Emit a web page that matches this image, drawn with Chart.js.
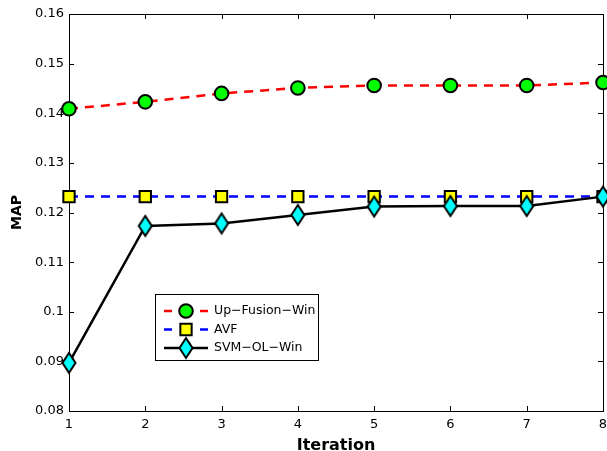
<!DOCTYPE html>
<html>
<head>
<meta charset="utf-8">
<title>MAP per iteration</title>
<script src="https://cdn.jsdelivr.net/npm/chart.js"></script>
<style>
  html, body { margin: 0; padding: 0; background: #fff; }
  canvas { display: block; }
</style>
</head>
<body>
<canvas id="mapChart" width="607" height="451"></canvas>
<script>
// iterations on the x axis
const iterations = [1, 2, 3, 4, 5, 6, 7, 8];

// MAP for each method
const upFusionWin = [0.1409, 0.1423, 0.1440, 0.1451, 0.1456, 0.1456, 0.1456, 0.1462];
const avf = [0.1232, 0.1232, 0.1232, 0.1232, 0.1232, 0.1232, 0.1232, 0.1232];
const svmOlWin = [0.0897, 0.1173, 0.1178, 0.1195, 0.1212, 0.1213, 0.1213, 0.1232];

// y axis ticks
const yTicks = [0.08, 0.09, 0.10, 0.11, 0.12, 0.13, 0.14, 0.15, 0.16];
const yTickLabels = ['0.08', '0.09', '0.1', '0.11', '0.12', '0.13', '0.14', '0.15', '0.16'];

const FONT = '"DejaVu Sans", "Liberation Sans", sans-serif';

// tall diamond marker (matlab style 'd')
function makeDiamond() {
  const c = document.createElement('canvas');
  c.width = 18;
  c.height = 26;
  const g = c.getContext('2d');
  g.beginPath();
  g.moveTo(9, 3);
  g.lineTo(15.5, 13);
  g.lineTo(9, 23);
  g.lineTo(2.5, 13);
  g.closePath();
  g.fillStyle = '#00ffff';
  g.fill();
  g.lineWidth = 2;
  g.lineJoin = 'miter';
  g.strokeStyle = '#000';
  g.stroke();
  return c;
}
const diamond = makeDiamond();

// box around the axes + inward tick marks on all four sides
const frame = {
  id: 'frame',
  beforeDatasetsDraw(chart) {
    const { ctx, chartArea: a, scales } = chart;
    const len = 5;
    ctx.save();
    ctx.strokeStyle = '#000';
    ctx.lineWidth = 1;
    ctx.strokeRect(Math.round(a.left) + 0.5, Math.round(a.top) + 0.5,
                   Math.round(a.right - a.left), Math.round(a.bottom - a.top));
    ctx.beginPath();
    scales.x.ticks.forEach((t, i) => {
      const px = Math.round(scales.x.getPixelForTick(i)) + 0.5;
      ctx.moveTo(px, a.bottom); ctx.lineTo(px, a.bottom - len);
      ctx.moveTo(px, a.top); ctx.lineTo(px, a.top + len);
    });
    scales.y.ticks.forEach((t, i) => {
      const py = Math.round(scales.y.getPixelForTick(i)) + 0.5;
      ctx.moveTo(a.left, py); ctx.lineTo(a.left + len, py);
      ctx.moveTo(a.right, py); ctx.lineTo(a.right - len, py);
    });
    ctx.stroke();
    ctx.restore();
  }
};

function drawMarker(ctx, ds, x, y) {
  const style = ds.pointStyle;
  if (style instanceof HTMLCanvasElement) {
    ctx.drawImage(style, x - style.width / 2, y - style.height / 2);
    return;
  }
  ctx.beginPath();
  if (style === 'rect') {
    const s = Math.SQRT1_2 * ds.pointRadius;
    ctx.rect(x - s, y - s, 2 * s, 2 * s);
  } else {
    ctx.arc(x, y, ds.pointRadius, 0, Math.PI * 2);
  }
  ctx.fillStyle = ds.pointBackgroundColor;
  ctx.fill();
  ctx.lineWidth = ds.pointBorderWidth;
  ctx.strokeStyle = ds.pointBorderColor;
  ctx.stroke();
}

// boxed legend inside the plot, line sample with marker in the middle
const boxLegend = {
  id: 'boxLegend',
  afterDatasetsDraw(chart) {
    const { ctx, chartArea: a } = chart;
    const left = a.left + 86, top = a.top + 280, w = 163, h = 66;
    ctx.save();
    ctx.fillStyle = '#fff';
    ctx.fillRect(left, top, w, h);
    ctx.strokeStyle = '#000';
    ctx.lineWidth = 1;
    ctx.strokeRect(left + 0.5, top + 0.5, w, h);
    ctx.font = '12.5px ' + FONT;
    ctx.textBaseline = 'middle';
    ctx.textAlign = 'left';
    chart.data.datasets.forEach((ds, i) => {
      const y = top + 17 + i * 18.5;
      ctx.beginPath();
      ctx.setLineDash(ds.borderDash && ds.borderDash.length ? [8, 28] : []);
      ctx.lineWidth = ds.borderWidth;
      ctx.strokeStyle = ds.borderColor;
      ctx.moveTo(left + 9, y);
      ctx.lineTo(left + 53, y);
      ctx.stroke();
      ctx.setLineDash([]);
      drawMarker(ctx, ds, left + 31, y);
      ctx.fillStyle = '#000';
      ctx.fillText(ds.label, left + 59, y);
    });
    ctx.restore();
  }
};

new Chart(document.getElementById('mapChart'), {
  type: 'line',
  data: {
    labels: iterations,
    datasets: [
      {
        label: 'Up\u2212Fusion\u2212Win',
        data: upFusionWin,
        borderColor: '#ff0000',
        borderWidth: 2.5,
        borderDash: [9, 7],
        pointStyle: 'circle',
        pointRadius: 6.8,
        pointBackgroundColor: '#00ff00',
        pointBorderColor: '#000',
        pointBorderWidth: 2,
        order: 2,
      },
      {
        label: 'AVF',
        data: avf,
        borderColor: '#0000ff',
        borderWidth: 2.5,
        borderDash: [9, 7],
        pointStyle: 'rect',
        pointRadius: 8,
        pointBackgroundColor: '#ffff00',
        pointBorderColor: '#000',
        pointBorderWidth: 2,
        order: 1,
      },
      {
        label: 'SVM\u2212OL\u2212Win',
        data: svmOlWin,
        borderColor: '#000',
        borderWidth: 2.5,
        pointStyle: diamond,
        pointRadius: 10,
        pointBackgroundColor: '#00ffff',
        pointBorderColor: '#000',
        pointBorderWidth: 2,
        order: 0,
      },
    ],
  },
  options: {
    responsive: false,
    animation: false,
    devicePixelRatio: 1,
    layout: { autoPadding: false, padding: { top: 14, right: 4, left: 0, bottom: 0 } },
    elements: { line: { tension: 0 } },
    datasets: { line: { clip: false } },
    plugins: {
      legend: { display: false },
      tooltip: { enabled: false },
    },
    scales: {
      x: {
        type: 'category',
        offset: false,
        grid: { display: false, drawTicks: false },
        border: { display: false },
        ticks: { color: '#000', padding: 6, font: { family: FONT, size: 13 }, maxRotation: 0 },
        title: {
          display: true,
          text: 'Iteration',
          color: '#000',
          font: { family: FONT, size: 16, weight: 'bold', lineHeight: 0.7 },
          padding: { top: 0, bottom: 0 },
        },
        afterFit(s) {
          s.height = 40;
          s.paddingLeft = 0;
          s.paddingRight = 0;
        },
      },
      y: {
        min: yTicks[0],
        max: yTicks[yTicks.length - 1],
        grid: { display: false, drawTicks: false },
        border: { display: false },
        afterBuildTicks(s) { s.ticks = yTicks.map(v => ({ value: v })); },
        ticks: {
          color: '#000',
          padding: 5,
          font: { family: FONT, size: 13 },
          callback: (v, i) => yTickLabels[i],
        },
        title: {
          display: true,
          text: 'MAP',
          color: '#000',
          font: { family: FONT, size: 14, weight: 'bold', lineHeight: 1 },
          padding: { top: 10.5, bottom: 0 },
        },
        afterFit(s) {
          s.width = 69;
          s.paddingTop = 0;
          s.paddingBottom = 0;
        },
      },
    },
  },
  plugins: [frame, boxLegend],
});
</script>
</body>
</html>
